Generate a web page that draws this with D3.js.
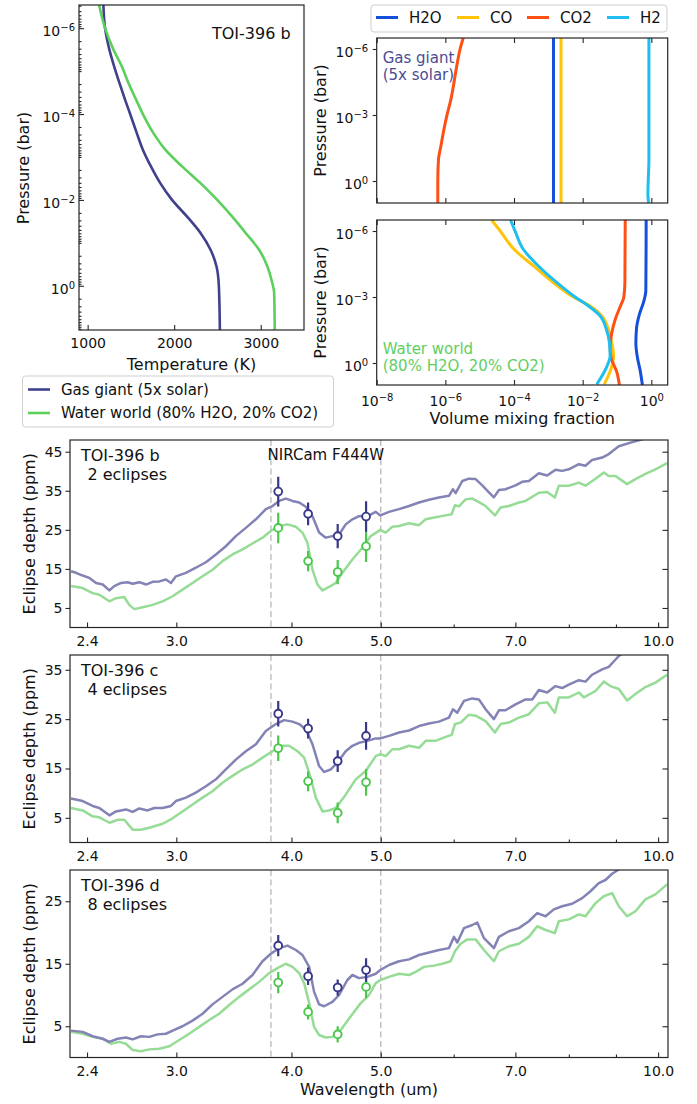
<!DOCTYPE html>
<html>
<head>
<meta charset="utf-8">
<script src="https://cdn.jsdelivr.net/npm/d3@7"></script>
<style>
  body { margin: 0; background: #fff; }
  svg text { font-family: "DejaVu Sans", sans-serif; fill: #111; }
</style>
</head>
<body>
<svg id="fig" width="697" height="1104"></svg>
<script>
// ---------------- TOI-396 b temperature–pressure profiles: [log10 P (bar), T (K)]
const tpGasGiant = [[-6.54,1182],[-6.0,1201],[-5.5,1251],[-5.11,1306],[-4.72,1368],[-4.33,1433],[-4.0,1491],[-3.55,1569],[-3.17,1638],[-2.78,1731],[-2.39,1839],[-2.0,1975],[-1.61,2149],[-1.23,2304],[-0.84,2420],[-0.45,2489],[0,2516],[1.03,2528]];
const tpWaterWorld = [[-6.54,1132],[-6.0,1201],[-5.5,1298],[-5.11,1395],[-4.72,1472],[-4.33,1561],[-4.0,1638],[-3.55,1762],[-3.17,1897],[-2.78,2091],[-2.39,2304],[-2.0,2497],[-1.61,2671],[-1.23,2826],[-0.84,2981],[-0.45,3077],[-0.14,3124],[0.17,3155],[1.03,3162]];
const tempTicks = [1000, 2000, 3000];

// ---------------- Volume mixing fractions: [log10 P (bar), log10 VMR]
const species = ["H2O", "CO", "CO2", "H2"];
const speciesColors = ["#1450dc", "#ffc30a", "#ff5014", "#1ebef0"];
const vmrGasH2O = [[-6.5,-2.85],[1,-2.85]];
const vmrGasCO  = [[-6.5,-2.63],[1,-2.63]];
const vmrGasCO2 = [[-6.5,-5.48],[-6.0,-5.57],[-5.21,-5.67],[-4.46,-5.75],[-3.70,-5.84],[-2.95,-5.96],[-2.19,-6.06],[-1.59,-6.13],[-0.98,-6.20],[0,-6.22],[1,-6.22]];
const vmrGasH2  = [[-6.5,-0.07],[-1,-0.07],[0,-0.09],[0.6,-0.1],[1,-0.08]];
const vmrWaterH2O = [[-6.5,-0.15],[-3.3,-0.16],[-2.8,-0.22],[-2.2,-0.35],[-1.6,-0.43],[-0.9,-0.45],[-0.2,-0.4],[0.3,-0.33],[1,-0.26]];
const vmrWaterCO  = [[-6.5,-4.65],[-6.0,-4.4],[-5.17,-4.0],[-4.41,-3.43],[-3.65,-2.85],[-3,-2.27],[-2.59,-1.78],[-2.14,-1.44],[-1.53,-1.25],[-0.92,-1.15],[-0.32,-1.1],[0.14,-1.15],[0.97,-1.37]];
const vmrWaterCO2 = [[-6.5,-0.76],[-3.65,-0.77],[-3,-0.8],[-2.59,-0.9],[-1.99,-1.05],[-1.38,-1.15],[-0.77,-1.2],[-0.3,-1.18],[0.44,-1.0],[1,-0.93]];
const vmrWaterH2  = [[-6.5,-4.1],[-6.0,-3.97],[-5.17,-3.73],[-4.41,-3.29],[-3.65,-2.75],[-3,-2.22],[-2.59,-1.83],[-2.14,-1.49],[-1.53,-1.31],[-0.92,-1.22],[-0.32,-1.2],[0.14,-1.29],[0.97,-1.59]];
const vmrTicks = [1e-8, 1e-6, 1e-4, 1e-2, 1];
const pressTicksTP = [1e-6, 1e-4, 1e-2, 1];
const pressTicksVMR = [1e-6, 1e-3, 1];

// ---------------- Emission spectra: [wavelength (um), eclipse depth (ppm)]
const specGasB = [[2.306,14.4],[2.335,14.0],[2.374,13.3],[2.414,12.7],[2.455,11.4],[2.496,11.0],[2.538,9.5],[2.569,10.6],[2.613,11.4],[2.656,11.6],[2.690,11.2],[2.735,11.6],[2.781,11.0],[2.827,11.7],[2.875,11.8],[2.923,12.3],[2.960,11.4],[2.997,13.1],[3.073,14.0],[3.150,15.3],[3.230,16.7],[3.312,18.7],[3.395,20.8],[3.481,23.4],[3.569,25.5],[3.660,27.7],[3.752,30.3],[3.815,31.1],[3.879,32.4],[3.944,33.0],[4.010,32.4],[4.078,32.0],[4.146,30.9],[4.216,28.5],[4.286,24.3],[4.358,23.0],[4.431,23.4],[4.506,23.8],[4.581,26.4],[4.658,27.7],[4.736,28.5],[4.856,28.7],[4.938,29.6],[4.995,28.7],[5.105,29.6],[5.234,30.3],[5.366,31.1],[5.502,32.0],[5.641,32.7],[5.783,33.3],[5.929,33.7],[5.989,35.4],[6.029,34.4],[6.130,37.5],[6.233,38.1],[6.338,38.0],[6.444,36.4],[6.552,34.6],[6.634,33.3],[6.718,35.2],[6.830,35.4],[7.003,36.4],[7.121,37.3],[7.240,37.5],[7.423,39.5],[7.579,38.9],[7.738,40.4],[7.868,40.1],[8.000,40.5],[8.203,41.8],[8.340,41.4],[8.480,42.9],[8.695,43.5],[8.840,44.4],[9.064,46.4],[9.293,47.2],[9.488,47.8],[9.648,48.3],[9.933,49.0],[10.226,49.8]];
const specWaterB = [[2.306,10.6],[2.374,10.1],[2.434,8.8],[2.475,8.4],[2.538,6.7],[2.580,7.5],[2.634,7.8],[2.667,5.8],[2.701,4.7],[2.758,5.2],[2.827,5.8],[2.899,6.7],[2.972,8.0],[3.047,9.7],[3.124,11.4],[3.203,13.1],[3.284,14.8],[3.367,17.0],[3.452,18.7],[3.540,20.0],[3.629,21.5],[3.721,23.0],[3.799,24.7],[3.879,26.0],[3.961,26.4],[4.044,25.8],[4.112,24.3],[4.163,21.7],[4.216,14.8],[4.269,11.0],[4.322,9.5],[4.395,10.4],[4.468,11.4],[4.543,14.0],[4.658,17.4],[4.776,20.4],[4.876,23.4],[4.995,25.0],[5.062,24.3],[5.147,25.8],[5.234,26.0],[5.366,26.7],[5.502,26.2],[5.594,27.7],[5.735,28.2],[5.880,28.7],[5.969,29.0],[6.019,31.3],[6.079,31.0],[6.181,32.8],[6.285,33.0],[6.390,32.1],[6.498,31.1],[6.651,28.7],[6.746,30.7],[6.887,31.1],[7.062,32.0],[7.180,32.4],[7.423,34.5],[7.579,34.7],[7.726,33.3],[7.803,36.3],[8.000,36.3],[8.203,37.1],[8.340,36.3],[8.551,38.1],[8.731,39.7],[8.840,38.8],[8.989,38.8],[9.254,36.7],[9.449,38.0],[9.688,39.3],[9.933,40.5],[10.226,42.1]];
const specGasC = [[2.306,8.9],[2.374,8.4],[2.434,7.4],[2.475,7.0],[2.538,5.5],[2.580,6.3],[2.645,6.7],[2.690,6.2],[2.735,6.9],[2.792,6.5],[2.839,7.0],[2.899,7.0],[2.960,7.4],[2.997,8.4],[3.073,9.1],[3.150,10.1],[3.230,11.4],[3.312,12.8],[3.395,14.8],[3.481,16.8],[3.569,18.5],[3.660,19.9],[3.752,22.6],[3.847,24.0],[3.928,24.8],[4.010,24.5],[4.078,24.0],[4.146,22.9],[4.216,19.9],[4.286,15.5],[4.340,14.3],[4.413,14.8],[4.487,16.2],[4.581,18.5],[4.658,19.6],[4.736,20.2],[4.836,20.6],[4.938,21.1],[4.995,21.1],[5.105,21.6],[5.234,22.3],[5.366,22.7],[5.502,23.6],[5.641,24.1],[5.783,24.5],[5.929,25.3],[5.989,27.0],[6.054,26.3],[6.156,28.7],[6.285,29.2],[6.390,29.0],[6.498,27.0],[6.634,25.0],[6.718,26.8],[6.830,26.8],[7.003,28.0],[7.180,29.0],[7.301,29.0],[7.423,30.9],[7.579,30.4],[7.738,31.7],[7.868,31.3],[8.000,32.0],[8.203,32.9],[8.340,32.6],[8.480,34.0],[8.695,35.1],[8.840,35.6],[9.064,37.8],[9.254,39.0],[9.500,40.5]];
const specWaterC = [[2.306,7.0],[2.374,6.5],[2.434,5.3],[2.475,5.1],[2.538,4.0],[2.591,4.6],[2.634,4.6],[2.690,2.6],[2.746,2.6],[2.804,3.0],[2.899,3.8],[2.972,4.9],[3.047,6.3],[3.124,7.7],[3.203,9.1],[3.284,10.4],[3.367,12.1],[3.452,13.5],[3.540,14.8],[3.629,15.8],[3.721,17.2],[3.815,18.5],[3.895,19.6],[3.977,19.6],[4.061,18.5],[4.129,17.2],[4.198,13.1],[4.251,9.1],[4.322,6.3],[4.395,6.5],[4.468,7.0],[4.581,9.7],[4.697,12.8],[4.816,14.5],[4.938,17.5],[4.995,17.9],[5.062,17.5],[5.147,18.9],[5.234,18.9],[5.366,19.6],[5.502,19.2],[5.594,20.6],[5.735,20.6],[5.880,21.4],[5.969,21.8],[6.019,24.0],[6.105,24.3],[6.233,25.9],[6.338,25.7],[6.498,24.6],[6.651,22.3],[6.746,24.0],[6.887,24.3],[7.062,25.3],[7.240,26.0],[7.423,28.2],[7.579,28.4],[7.726,26.3],[7.803,29.4],[8.000,29.4],[8.203,30.4],[8.306,29.4],[8.551,30.7],[8.731,32.6],[8.877,31.7],[9.064,31.1],[9.254,28.8],[9.449,30.1],[9.688,31.5],[9.933,32.4],[10.226,34.0]];
const specGasD = [[2.306,4.3],[2.374,4.1],[2.434,3.4],[2.496,3.0],[2.538,2.5],[2.591,3.0],[2.645,3.2],[2.690,2.9],[2.746,3.4],[2.804,3.3],[2.863,3.7],[2.923,3.8],[2.972,4.3],[3.047,5.0],[3.124,5.9],[3.203,7.0],[3.284,8.5],[3.367,9.7],[3.452,10.9],[3.540,11.8],[3.629,13.2],[3.721,15.4],[3.799,16.6],[3.879,17.5],[3.961,17.9],[4.044,17.2],[4.112,16.4],[4.181,14.5],[4.233,10.5],[4.286,8.5],[4.340,8.2],[4.431,8.9],[4.506,10.0],[4.600,12.4],[4.658,13.2],[4.736,12.7],[4.836,12.9],[4.938,13.4],[4.995,14.0],[5.105,14.8],[5.234,15.4],[5.366,15.7],[5.502,16.4],[5.641,16.8],[5.783,17.2],[5.929,17.5],[6.004,19.3],[6.054,18.4],[6.156,20.7],[6.285,21.2],[6.364,21.6],[6.471,19.1],[6.634,17.5],[6.718,19.3],[6.887,20.2],[7.062,20.7],[7.240,21.8],[7.392,23.1],[7.548,22.6],[7.706,23.7],[7.868,24.2],[8.067,24.6],[8.271,25.5],[8.445,26.6],[8.622,27.9],[8.767,28.4],[8.914,29.4],[9.064,30.1],[9.293,31.0]];
const specWaterD = [[2.306,4.1],[2.374,3.8],[2.434,3.3],[2.496,3.0],[2.548,2.2],[2.602,2.5],[2.645,2.2],[2.690,1.2],[2.746,1.0],[2.804,1.3],[2.875,1.4],[2.948,1.8],[3.022,2.8],[3.098,3.8],[3.177,4.9],[3.257,6.0],[3.339,7.0],[3.424,8.4],[3.510,9.7],[3.599,10.9],[3.690,12.1],[3.783,13.5],[3.863,14.3],[3.944,15.0],[4.010,14.5],[4.078,13.5],[4.129,11.9],[4.181,8.7],[4.233,4.9],[4.286,3.6],[4.358,3.2],[4.431,3.3],[4.525,4.4],[4.639,6.6],[4.756,8.7],[4.856,10.0],[4.938,11.9],[4.995,12.4],[5.105,12.9],[5.234,13.4],[5.366,13.2],[5.456,13.7],[5.571,14.5],[5.712,14.7],[5.832,15.0],[5.954,15.4],[6.019,17.0],[6.105,18.2],[6.207,18.9],[6.338,18.9],[6.471,17.2],[6.634,15.4],[6.718,17.0],[6.887,17.8],[7.062,18.2],[7.240,19.3],[7.392,21.0],[7.548,20.4],[7.726,19.9],[7.803,21.8],[8.000,22.1],[8.203,22.9],[8.340,22.6],[8.551,24.7],[8.731,25.8],[8.914,26.3],[9.064,24.2],[9.254,22.6],[9.449,23.4],[9.688,25.3],[9.933,26.1],[10.226,27.7]];

// ---------------- Simulated NIRCam F444W eclipse depths (ppm) and 1-sigma errors
const obsWave = [3.87, 4.17, 4.49, 4.82];
const obsGasB = [34.8, 29.1, 23.4, 28.4],   errGasB = [3.8, 2.9, 3.1, 3.9];
const obsWaterB = [25.5, 17.0, 14.2, 20.8], errWaterB = [3.9, 2.6, 3.1, 4.0];
const obsGasC = [26.1, 23.1, 16.5, 21.6],   errGasC = [2.6, 2.0, 2.2, 2.8];
const obsWaterC = [19.1, 12.4, 6.0, 12.2],  errWaterC = [2.6, 2.0, 2.1, 2.7];
const obsGasD = [17.9, 13.0, 11.2, 14.0],   errGasD = [1.7, 1.4, 1.3, 1.9];
const obsWaterD = [12.0, 7.3, 3.7, 11.3],   errWaterD = [1.7, 1.2, 1.3, 1.8];

const waveTicks = [2.4, 3.0, 4.0, 5.0, 7.0, 10.0];
const waveMinorTicks = [6, 8, 9];
const filterEdges = [3.8, 5.0];
const depthTicksB = [5, 15, 25, 35, 45];
const depthTicksC = [5, 15, 25, 35];
const depthTicksD = [5, 15, 25];

// ---------------- styling
const INK = "#262626";
const GAS = "#40408c", WATER = "#5ccf5c";
const GAS_SPEC = "#8383b5", WATER_SPEC = "#96dc96";
const GAS_MARK = "#38388a", WATER_MARK = "#4cc64c";

const svg = d3.select("#fig");
const defs = svg.append("defs");
let clipCount = 0;
function clipFor(x, y, w, h) {
  const id = "clip" + (clipCount++);
  defs.append("clipPath").attr("id", id).append("rect")
    .attr("x", x).attr("y", y).attr("width", w).attr("height", h);
  return "url(#" + id + ")";
}
function frame(x, y, w, h) {
  svg.append("rect").attr("x", x).attr("y", y).attr("width", w).attr("height", h)
    .attr("fill", "none").attr("stroke", INK).attr("stroke-width", 1.2);
}
function styleAxis(g, size) {
  g.select(".domain").remove();
  g.selectAll(".tick line").attr("stroke", INK).attr("stroke-width", 1.1);
  g.selectAll(".tick text").attr("font-size", size + "px").attr("fill", "#111")
    .attr("font-family", "'DejaVu Sans', sans-serif");
  g.attr("font-family", null).attr("font-size", null);
}
function powerLabels(g, shift) {
  g.selectAll(".tick text").each(function (d) {
    const t = d3.select(this);
    const e = Math.round(Math.log10(d));
    t.text(null).attr("dy", shift);
    t.append("tspan").text("10");
    t.append("tspan").attr("dy", "-0.52em").attr("font-size", "10px")
      .text(e < 0 ? "\u2212" + (-e) : String(e));
  });
}
function rotLabel(x, y, str, size) {
  svg.append("text").attr("transform", `translate(${x},${y}) rotate(-90)`)
    .attr("text-anchor", "middle").attr("font-size", size + "px").text(str);
}

// =============== Panel 1: temperature–pressure profiles ===============
{
  const L = 79, R = 304, T = 5, B = 330;
  const x = d3.scaleLinear().domain([900, 3500]).range([L, R]);
  const y = d3.scaleLog().domain([Math.pow(10, -6.54), Math.pow(10, 1.03)]).range([T, B]);
  const clip = clipFor(L, T, R - L, B - T);
  const line = d3.line().x(d => x(d[1])).y(d => y(Math.pow(10, d[0]))).curve(d3.curveMonotoneY);
  const g = svg.append("g").attr("clip-path", clip);
  g.append("path").datum(tpGasGiant).attr("d", line).attr("fill", "none").attr("stroke", GAS).attr("stroke-width", 2.6);
  g.append("path").datum(tpWaterWorld).attr("d", line).attr("fill", "none").attr("stroke", WATER).attr("stroke-width", 2.6);

  const minor = y.ticks().filter(v => !pressTicksTP.some(m => Math.abs(Math.log10(v) - Math.log10(m)) < 1e-6));
  svg.append("g").attr("transform", `translate(${L},0)`)
    .call(d3.axisLeft(y).tickValues(minor).tickSize(-2.5).tickFormat(""))
    .call(g => styleAxis(g, 14));
  svg.append("g").attr("transform", `translate(${L},0)`)
    .call(d3.axisLeft(y).tickValues(pressTicksTP).tickSize(-5).tickPadding(4))
    .call(g => styleAxis(g, 14)).call(g => powerLabels(g, "0.55em"));
  svg.append("g").attr("transform", `translate(0,${B})`)
    .call(d3.axisBottom(x).tickValues(tempTicks).tickSize(-5).tickPadding(8.5).tickFormat(d3.format("d")))
    .call(g => styleAxis(g, 14));
  frame(L, T, R - L, B - T);

  svg.append("text").attr("x", 212).attr("y", 39).attr("font-size", "16px").text("TOI-396 b");
  rotLabel(29, 168, "Pressure (bar)", 16);
  svg.append("text").attr("x", (L + R) / 2).attr("y", 370).attr("text-anchor", "middle")
    .attr("font-size", "16px").text("Temperature (K)");

  // legend
  const lg = svg.append("g");
  lg.append("rect").attr("x", 22.5).attr("y", 376).attr("width", 311).attr("height", 51).attr("rx", 3)
    .attr("fill", "#fff").attr("stroke", "#cfcfcf").attr("stroke-width", 1);
  [["Gas giant (5x solar)", GAS, 389.5], ["Water world (80% H2O, 20% CO2)", WATER, 413]].forEach(([t, c, yy]) => {
    lg.append("line").attr("x1", 28).attr("x2", 50).attr("y1", yy).attr("y2", yy).attr("stroke", c).attr("stroke-width", 2.6);
    lg.append("text").attr("x", 61).attr("y", yy + 5.3).attr("font-size", "15px").text(t);
  });
}

// =============== Panels 2–3: volume mixing fractions ===============
{
  const L = 376.7, R = 667.7;
  const x = d3.scaleLog().domain([1e-8, 3]).range([L, R]);
  const panels = [
    { T: 38, B: 203, data: [vmrGasH2O, vmrGasCO, vmrGasCO2, vmrGasH2], labels: true },
    { T: 220, B: 385, data: [vmrWaterH2O, vmrWaterCO, vmrWaterCO2, vmrWaterH2], labels: true }
  ];
  panels.forEach((p, i) => {
    const y = d3.scaleLog().domain([Math.pow(10, -6.5), 10]).range([p.T, p.B]);
    const clip = clipFor(L, p.T, R - L, p.B - p.T);
    const line = d3.line().x(d => x(Math.pow(10, d[1]))).y(d => y(Math.pow(10, d[0]))).curve(d3.curveMonotoneY);
    const g = svg.append("g").attr("clip-path", clip);
    p.data.forEach((ser, k) => {
      g.append("path").datum(ser).attr("d", line).attr("fill", "none")
        .attr("stroke", speciesColors[k]).attr("stroke-width", 3);
    });
    svg.append("g").attr("transform", `translate(${L},0)`)
      .call(d3.axisLeft(y).tickValues(pressTicksVMR).tickSize(4).tickPadding(4.5))
      .call(g => styleAxis(g, 14)).call(g => powerLabels(g, "0.55em"));
    svg.append("g").attr("transform", `translate(0,${p.T})`)
      .call(d3.axisTop(x).tickValues(vmrTicks).tickSize(-5).tickFormat(""))
      .call(g => styleAxis(g, 14));
    const bx = svg.append("g").attr("transform", `translate(0,${p.B})`)
      .call(d3.axisBottom(x).tickValues(vmrTicks).tickSize(-5).tickPadding(8))
      .call(g => styleAxis(g, 14));
    if (i === 1) bx.call(g => powerLabels(g, "0.95em"));
    else bx.selectAll(".tick text").remove();
    frame(L, p.T, R - L, p.B - p.T);
    rotLabel(326, (p.T + p.B) / 2, "Pressure (bar)", 16);
  });

  svg.append("text").attr("x", 382.7).attr("y", 62.5).attr("font-size", "15px").attr("fill", "#4b4b93").style("fill", "#4b4b93").text("Gas giant");
  svg.append("text").attr("x", 382.7).attr("y", 80).attr("font-size", "15px").style("fill", "#4b4b93").text("(5x solar)");
  svg.append("text").attr("x", 382.7).attr("y", 354).attr("font-size", "15px").style("fill", "#5fcf5f").text("Water world");
  svg.append("text").attr("x", 382.7).attr("y", 371).attr("font-size", "15px").style("fill", "#5fcf5f").text("(80% H2O, 20% CO2)");
  svg.append("text").attr("x", (L + R) / 2).attr("y", 424).attr("text-anchor", "middle")
    .attr("font-size", "16px").text("Volume mixing fraction");

  // species legend
  const lg = svg.append("g");
  lg.append("rect").attr("x", 371).attr("y", 5).attr("width", 296).attr("height", 27).attr("rx", 3)
    .attr("fill", "#fff").attr("stroke", "#cfcfcf").attr("stroke-width", 1);
  const lx = [376, 457, 527, 607];
  species.forEach((s, k) => {
    lg.append("line").attr("x1", lx[k]).attr("x2", lx[k] + 22).attr("y1", 17.5).attr("y2", 17.5)
      .attr("stroke", speciesColors[k]).attr("stroke-width", 3);
    lg.append("text").attr("x", lx[k] + 33).attr("y", 23).attr("font-size", "15px").text(s);
  });
}

// =============== Panels 4–6: emission spectra ===============
{
  const L = 70, R = 668, PH = 187.5;
  const x = d3.scaleLog().domain([2.3, 10.25]).range([L, R]);
  const planets = [
    { name: "TOI-396 b", ecl: "2 eclipses", top: 440, yMax: 48, ticks: depthTicksB,
      gas: specGasB, water: specWaterB, oG: obsGasB, eG: errGasB, oW: obsWaterB, eW: errWaterB },
    { name: "TOI-396 c", ecl: "4 eclipses", top: 655, yMax: 38, ticks: depthTicksC,
      gas: specGasC, water: specWaterC, oG: obsGasC, eG: errGasC, oW: obsWaterC, eW: errWaterC },
    { name: "TOI-396 d", ecl: "8 eclipses", top: 870, yMax: 30, ticks: depthTicksD,
      gas: specGasD, water: specWaterD, oG: obsGasD, eG: errGasD, oW: obsWaterD, eW: errWaterD }
  ];
  planets.forEach((p, i) => {
    const T = p.top, B = p.top + PH;
    const y = d3.scaleLinear().domain([0, p.yMax]).range([B, T]);
    const clip = clipFor(L, T, R - L, B - T);
    const g = svg.append("g").attr("clip-path", clip);

    // filter band edges
    filterEdges.forEach(w => {
      g.append("line").attr("x1", x(w)).attr("x2", x(w)).attr("y1", T).attr("y2", B)
        .attr("stroke", "#bdbdbd").attr("stroke-width", 1.4).attr("stroke-dasharray", "6,3.5");
    });

    const line = d3.line().x(d => x(d[0])).y(d => y(d[1]));
    g.append("path").datum(p.water).attr("d", line).attr("fill", "none")
      .attr("stroke", WATER_SPEC).attr("stroke-width", 2.5).attr("stroke-linejoin", "round");
    g.append("path").datum(p.gas).attr("d", line).attr("fill", "none")
      .attr("stroke", GAS_SPEC).attr("stroke-width", 2.5).attr("stroke-linejoin", "round");

    [[p.oW, p.eW, WATER_MARK], [p.oG, p.eG, GAS_MARK]].forEach(([vals, errs, c]) => {
      obsWave.forEach((w, k) => {
        g.append("line").attr("x1", x(w)).attr("x2", x(w))
          .attr("y1", y(vals[k] - errs[k])).attr("y2", y(vals[k] + errs[k]))
          .attr("stroke", c).attr("stroke-width", 2.2);
      });
      obsWave.forEach((w, k) => {
        g.append("circle").attr("cx", x(w)).attr("cy", y(vals[k])).attr("r", 3.9)
          .attr("fill", "#fff").attr("stroke", c).attr("stroke-width", 1.9);
      });
    });

    svg.append("g").attr("transform", `translate(${L},0)`)
      .call(d3.axisLeft(y).tickValues(p.ticks).tickSize(4.5).tickPadding(3).tickFormat(d3.format("d")))
      .call(g => styleAxis(g, 14));
    svg.append("g").attr("transform", `translate(${R},0)`)
      .call(d3.axisRight(y).tickValues(p.ticks).tickSize(-5.5).tickFormat(""))
      .call(g => styleAxis(g, 14));
    svg.append("g").attr("transform", `translate(0,${B})`)
      .call(d3.axisBottom(x).tickValues(waveMinorTicks).tickSize(-3).tickFormat(""))
      .call(g => styleAxis(g, 14));
    svg.append("g").attr("transform", `translate(0,${B})`)
      .call(d3.axisBottom(x).tickValues(waveTicks).tickSize(-5).tickPadding(8.5).tickFormat(d3.format(".1f")))
      .call(g => styleAxis(g, 14));
    frame(L, T, R - L, B - T);

    svg.append("text").attr("x", 81).attr("y", T + 21).attr("font-size", "16px").text(p.name);
    svg.append("text").attr("x", 87.5).attr("y", T + 39.5).attr("font-size", "16px").text(p.ecl);
    if (i === 0) {
      svg.append("text").attr("x", (x(filterEdges[0]) + x(filterEdges[1])) / 2).attr("y", T + 19.5)
        .attr("text-anchor", "middle").attr("font-size", "15px").text("NIRCam F444W");
    }
    rotLabel(34.5, (T + B) / 2, "Eclipse depth (ppm)", 16);
  });
  svg.append("text").attr("x", (L + R) / 2).attr("y", 1095).attr("text-anchor", "middle")
    .attr("font-size", "16px").text("Wavelength (um)");
}
</script>
</body>
</html>
